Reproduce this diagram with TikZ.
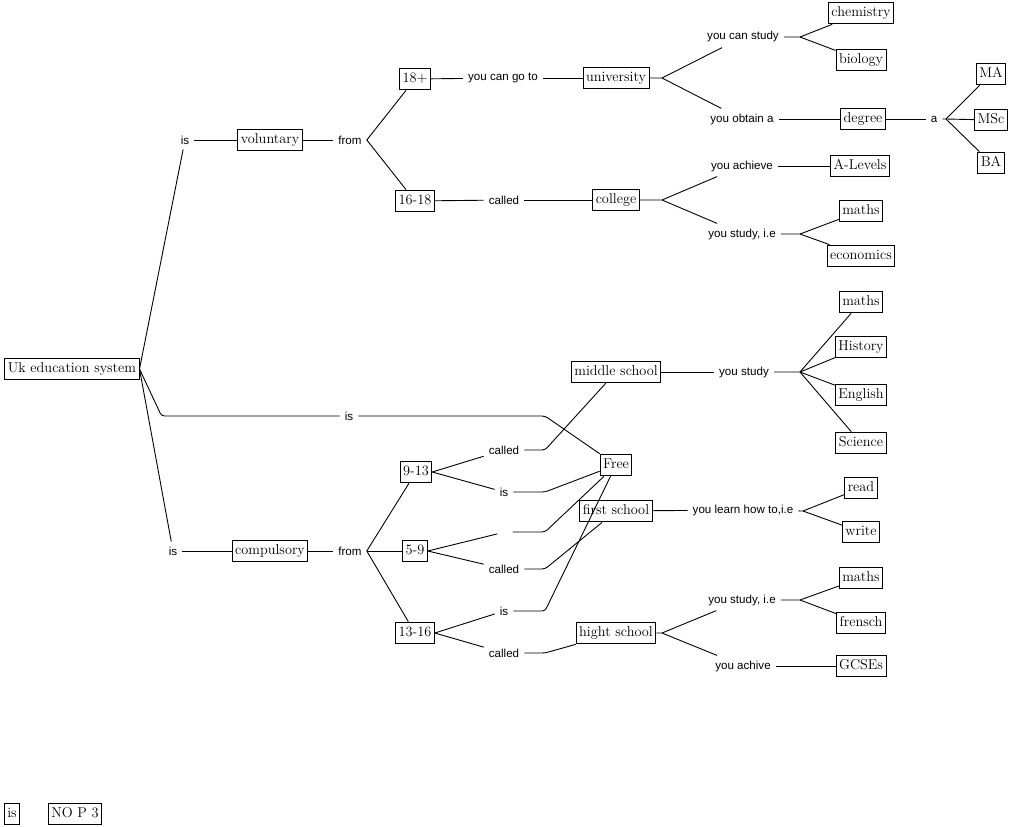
\documentclass[tikz,border=0pt]{standalone}
\usepackage{fontspec}
\newfontfamily\linkfont{Liberation Sans}
\usetikzlibrary{positioning}

\begin{document}
\begin{tikzpicture}[
    x=1pt, y=-1pt,
    concept/.style={rectangle, draw, line width=0.9pt, inner xsep=3pt, inner ysep=4.5pt, text height=10pt, text depth=2.8pt, font=\fontsize{14.3}{16}\selectfont},
    link/.style={inner sep=5pt, font=\linkfont\fontsize{11.6}{13}\selectfont},
    conn/.style={line width=0.9pt},
    bent/.style={conn, rounded corners=3pt}
]
\useasboundingbox (0,0) rectangle (1013,827);

\node[concept] (uk) at (72,369) {Uk education system};
\node[concept] (voluntary) at (270,140) {voluntary};
\node[concept] (compulsory) at (270,551) {compulsory};
\node[concept] (eighteen) at (415,79) {18+};
\node[concept] (sixteen) at (415,201) {16-18};
\node[concept] (university) at (616,78) {university};
\node[concept] (college) at (616,200) {college};
\node[concept] (chemistry) at (861,13) {chemistry};
\node[concept] (biology) at (861,60) {biology};
\node[concept] (degree) at (863,119) {degree};
\node[concept] (ma) at (991,74) {MA};
\node[concept] (msc) at (991,120) {MSc};
\node[concept] (ba) at (991,163) {BA};
\node[concept] (alevels) at (860,166) {A-Levels};
\node[concept] (mathsA) at (861,211) {maths};
\node[concept] (economics) at (861,256) {economics};
\node[concept] (mathsB) at (861,302) {maths};
\node[concept] (history) at (861,347) {History};
\node[concept] (english) at (861,395) {English};
\node[concept] (science) at (861,443) {Science};
\node[concept] (middle) at (616,372) {middle school};
\node[concept] (free) at (616,465) {Free};
\node[concept] (first) at (616,511) {first school};
\node[concept] (read) at (861,488) {read};
\node[concept] (write) at (861,532) {write};
\node[concept] (nine) at (416,472) {9-13};
\node[concept] (five) at (415,551) {5-9};
\node[concept] (thirteen) at (415,633) {13-16};
\node[concept] (hight) at (616,633) {hight school};
\node[concept] (mathsC) at (861,578) {maths};
\node[concept] (frensch) at (861,623) {frensch};
\node[concept] (gcses) at (861,666) {GCSEs};
\node[concept] (legIs) at (12,814) {is};
\node[concept] (legNop) at (75,814) {NO P 3};

\node[link] (isA) at (185,140) {is};
\node[link] (fromA) at (350,140) {from};
\node[link] (goto) at (503,78) {you can go to};
\node[link] (calledA) at (504,200) {called};
\node[link] (canstudy) at (743,37) {you can study};
\node[link] (obtain) at (742,119) {you obtain a};
\node[link] (linkA) at (934,119) {a};
\node[link] (achieve) at (742,166) {you achieve};
\node[link] (studyie) at (742,234) {you study, i.e};
\node[link] (isB) at (349,416) {is};
\node[link] (isC) at (173,551) {is};
\node[link] (fromB) at (350,551) {from};
\node[link] (calledB) at (504,450) {called};
\node[link] (isD) at (504,492) {is};
\node[link, minimum width=15pt, minimum height=12pt, inner sep=0pt] (blank) at (505,532) {};
\node[link] (calledC) at (504,569) {called};
\node[link] (isE) at (504,611) {is};
\node[link] (calledD) at (504,653) {called};
\node[link] (study) at (744,372) {you study};
\node[link] (learn) at (743,510) {you learn how to,i.e};
\node[link] (studyhigh) at (742,600) {you study, i.e};
\node[link] (achive) at (743,666) {you achive};

\coordinate (univfork) at (662,78);
\coordinate (canfork) at (800,37);
\coordinate (afork) at (946,119);
\coordinate (collfork) at (662,200);
\coordinate (sifork) at (800,234);
\coordinate (studyfork) at (800,372);
\coordinate (learnfork) at (803,511);
\coordinate (highfork) at (662,633);
\coordinate (shfork) at (800,600);
\coordinate (bend) at (545,0);

\draw[conn] (uk.east) -- (isA);
\draw[conn] (isA) -- (voluntary);
\draw[conn] (voluntary) -- (fromA);
\draw[conn] (fromA.east) -- (eighteen);
\draw[conn] (fromA.east) -- (sixteen);
\draw[conn] (eighteen) -- (goto);
\draw[conn] (goto) -- (university);
\draw[conn] (sixteen) -- (calledA);
\draw[conn] (calledA) -- (college);
\draw[conn] (university) -- (univfork) -- (canstudy);
\draw[conn] (univfork) -- (obtain);
\draw[conn] (canstudy) -- (canfork) -- (chemistry);
\draw[conn] (canfork) -- (biology);
\draw[conn] (obtain) -- (degree);
\draw[conn] (degree) -- (linkA);
\draw[conn] (linkA) -- (afork) -- (ma);
\draw[conn] (afork) -- (msc);
\draw[conn] (afork) -- (ba);
\draw[conn] (college) -- (collfork) -- (achieve);
\draw[conn] (collfork) -- (studyie);
\draw[conn] (achieve) -- (alevels);
\draw[conn] (studyie) -- (sifork) -- (mathsA);
\draw[conn] (sifork) -- (economics);

\draw[bent] (uk.east) -- ++(22,47) -- (isB.west);
\draw[bent] (isB) -- (isB -| bend) -- (free);
\draw[conn] (uk.east) -- (isC);
\draw[conn] (isC) -- (compulsory);
\draw[conn] (compulsory) -- (fromB);
\draw[conn] (fromB.east) -- (nine);
\draw[conn] (fromB.east) -- (five);
\draw[conn] (fromB.east) -- (thirteen);
\draw[conn] (nine.east) -- (calledB);
\draw[conn] (nine.east) -- (isD);
\draw[bent] (calledB) -- (calledB -| bend) -- (middle);
\draw[bent] (isD) -- (isD -| bend) -- (free);
\draw[conn] (five.east) -- (blank);
\draw[conn] (five.east) -- (calledC);
\draw[bent] (blank) -- (blank -| bend) -- (free);
\draw[bent] (calledC) -- (calledC -| bend) -- (first);
\draw[conn] (thirteen.east) -- (isE);
\draw[conn] (thirteen.east) -- (calledD);
\draw[bent] (isE) -- (isE -| bend) -- (free);
\draw[bent] (calledD) -- (calledD -| bend) -- (hight);

\draw[conn] (middle) -- (study);
\draw[conn] (study) -- (studyfork) -- (mathsB);
\draw[conn] (studyfork) -- (history);
\draw[conn] (studyfork) -- (english);
\draw[conn] (studyfork) -- (science);
\draw[conn] (first) -- (learn);
\draw[conn] (learn) -- (learnfork) -- (read);
\draw[conn] (learnfork) -- (write);
\draw[conn] (hight) -- (highfork) -- (studyhigh);
\draw[conn] (highfork) -- (achive);
\draw[conn] (studyhigh) -- (shfork) -- (mathsC);
\draw[conn] (shfork) -- (frensch);
\draw[conn] (achive) -- (gcses);

\end{tikzpicture}
\end{document}
